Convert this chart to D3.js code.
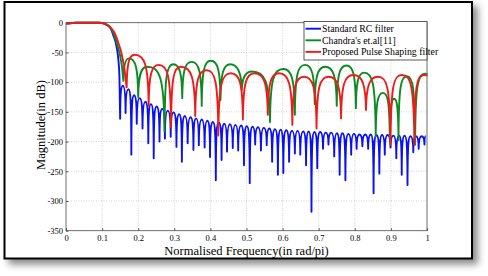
<!DOCTYPE html>
<html>
<head>
<meta charset="utf-8">
<script src="https://cdn.jsdelivr.net/npm/d3@7"></script>
<style>
html, body { margin: 0; padding: 0; background: #fff; }
svg { display: block; }
text { font-family: "Liberation Serif", "Times New Roman", serif; fill: #000; }
</style>
</head>
<body>
<svg id="chart" width="488" height="276"></svg>
<script>
"use strict";

// Tick values
const freqTicks = [0, 0.1, 0.2, 0.3, 0.4, 0.5, 0.6, 0.7, 0.8, 0.9, 1];
const dbTicks = [0, -50, -100, -150, -200, -250, -300, -350];

// Legend
const seriesNames = ["Standard RC filter", "Chandra's et.al[11]", "Proposed Pulse Shaping filter"];
const seriesColors = ["#0a10f2", "#0b8a22", "#ee1b1b"];

// Passband / roll-off part of each curve, [freq, dB], ends at the first null
const bluePass = [[0, -1.5], [0.03, 0], [0.09, 0], [0.1, -0.8], [0.11, -3], [0.122, -8], [0.131, -21],
    [0.14, -40], [0.145, -62], [0.148, -90], [0.150, -163]];
const greenPass = [[0, -1.5], [0.03, 0], [0.095, 0], [0.104, -1], [0.113, -3.5], [0.123, -9], [0.133, -20],
    [0.142, -37], [0.15, -56], [0.155, -74], [0.159, -99]];
const redPass = [[0, -1.5], [0.03, 0], [0.095, 0], [0.105, -1], [0.115, -3.5], [0.125, -9], [0.136, -19],
    [0.145, -34], [0.154, -52], [0.162, -78], [0.168, -110]];

// Stopband of the standard RC filter: nulls and the peak of each lobe between them
const blueNullF = [0.150, 0.165, 0.181, 0.196, 0.212, 0.228, 0.243, 0.259, 0.274, 0.290,
    0.306, 0.321, 0.337, 0.353, 0.368, 0.384, 0.399, 0.415, 0.431, 0.446,
    0.462, 0.477, 0.493, 0.509, 0.524, 0.540, 0.556, 0.571, 0.587, 0.602,
    0.618, 0.634, 0.649, 0.665, 0.680, 0.696, 0.712, 0.727, 0.743, 0.758,
    0.774, 0.790, 0.805, 0.821, 0.837, 0.852, 0.868, 0.883, 0.899, 0.915,
    0.930, 0.946, 0.962, 0.977, 0.993];
const blueNullDb = [-163, -152, -222, -170, -178, -203, -228, -200, -195, -192,
    -209, -234, -203, -214, -206, -210, -226, -265, -231, -217,
    -211, -215, -240, -270, -205, -215, -206, -234, -256, -253,
    -234, -220, -222, -240, -318, -245, -212, -205, -225, -256,
    -265, -222, -212, -208, -212, -287, -254, -222, -210, -228,
    -256, -273, -218, -212, -205];
const bluePeakDb = [-106, -112, -122, -127, -133, -137, -141, -145, -148, -151,
    -154, -157, -159, -161, -163, -165, -167, -168, -170, -171,
    -172, -173, -174, -175, -176, -177, -178, -179, -180, -181,
    -182, -182, -183, -183, -184, -184, -185, -185, -186, -186,
    -187, -187, -188, -188, -188, -189, -189, -189, -190, -190,
    -190, -191, -191, -191];
const blueEnd = [1.0, -191];

// Stopband of Chandra's filter: null, peak, null, peak ...
const greenLobes = [[0.159, -99], [0.174, -60], [0.2, -125], [0.224, -74], [0.273, -183], [0.297, -70],
    [0.322, -127], [0.348, -66], [0.376, -140], [0.401, -64], [0.428, -130], [0.455, -70],
    [0.487, -113], [0.515, -82], [0.565, -167], [0.602, -78], [0.634, -155], [0.662, -71],
    [0.689, -137], [0.718, -74], [0.75, -140], [0.777, -72], [0.803, -144], [0.826, -84],
    [0.858, -192], [0.878, -118], [0.897, -200], [0.909, -128], [0.921, -198], [0.944, -90],
    [0.967, -205], [0.995, -86], [1.0, -87]];

// Stopband of the proposed filter: null, peak, null, peak ...
const redLobes = [[0.168, -110], [0.19, -54], [0.229, -140], [0.257, -71], [0.291, -176], [0.318, -74],
    [0.358, -157], [0.389, -80], [0.422, -190], [0.457, -85], [0.49, -163], [0.522, -85],
    [0.559, -155], [0.59, -85], [0.627, -172], [0.659, -91], [0.694, -178], [0.727, -91],
    [0.762, -161], [0.796, -88], [0.831, -147], [0.864, -91], [0.899, -206], [0.93, -88],
    [0.965, -206], [0.99, -88], [1.0, -90]];

const svg = d3.select("#chart");

// drop shadow for the outer frame
const shadow = svg.append("defs").append("filter")
    .attr("id", "shadow").attr("x", "-5%").attr("y", "-5%").attr("width", "115%").attr("height", "120%");
shadow.append("feDropShadow")
    .attr("dx", 5).attr("dy", 5).attr("stdDeviation", 3.5)
    .attr("flood-color", "#000").attr("flood-opacity", 0.45);

svg.append("rect")
    .attr("x", 4.5).attr("y", 2).attr("width", 467.5).attr("height", 256.5)
    .attr("fill", "#fff").attr("stroke", "#000").attr("stroke-width", 2)
    .attr("filter", "url(#shadow)");

const plotLeft = 66, plotRight = 427, plotTop = 22.7, plotBottom = 230.7;

const x = d3.scaleLinear().domain([0, 1]).range([plotLeft, plotRight]);
const y = d3.scaleLinear().domain([-350, 0]).range([plotBottom, plotTop]);

// dotted grid
const grid = svg.append("g").attr("stroke", "#bdbdbd").attr("stroke-width", 0.7).attr("stroke-dasharray", "1,1.5");
grid.selectAll("line.vx").data(freqTicks.slice(1, -1)).join("line")
    .attr("x1", (d) => x(d)).attr("x2", (d) => x(d))
    .attr("y1", plotTop).attr("y2", plotBottom);
grid.selectAll("line.hy").data(dbTicks.slice(1, -1)).join("line")
    .attr("x1", plotLeft).attr("x2", plotRight)
    .attr("y1", (d) => y(d)).attr("y2", (d) => y(d));

// axes with tick labels
const xAxis = svg.append("g")
    .attr("transform", `translate(0,${plotBottom})`)
    .call(d3.axisBottom(x).tickValues(freqTicks).tickSize(-2.5).tickPadding(4).tickFormat((d) => String(d)));
const yAxis = svg.append("g")
    .attr("transform", `translate(${plotLeft},0)`)
    .call(d3.axisLeft(y).tickValues(dbTicks).tickSize(-2.5).tickPadding(3).tickFormat((d) => String(d)));
[xAxis, yAxis].forEach((a) => {
    a.attr("font-family", null).attr("font-size", null);
    a.select(".domain").remove();
    a.selectAll("line").attr("stroke", "#555");
    a.selectAll("text").attr("font-size", 8.5).attr("fill", "#111");
});

svg.append("rect")
    .attr("x", plotLeft).attr("y", plotTop)
    .attr("width", plotRight - plotLeft).attr("height", plotBottom - plotTop)
    .attr("fill", "none").attr("stroke", "#4a4a4a").attr("stroke-width", 0.8);

// lobe drawing: cusp at the nulls, rounded arch at the peaks
const pxPerDb = (plotBottom - plotTop) / 350;
function lobePath(pts) {
    const p = d3.path();
    const s = pts.map(([f, v]) => [x(f), y(v)]);
    p.moveTo(s[0][0], s[0][1]);
    for (let i = 1; i < s.length; i++) {
        const [x0, y0] = s[i - 1], [x1, y1] = s[i];
        const depth = Math.abs(y1 - y0), k = Math.min(depth * 0.4, pxPerDb * 16);
        if (y1 < y0) {
            p.bezierCurveTo(x0 + (x1 - x0) * 0.03, y1 + k, x0 + (x1 - x0) * 0.28, y1, x1, y1);
        } else {
            p.bezierCurveTo(x1 - (x1 - x0) * 0.28, y0, x1 - (x1 - x0) * 0.03, y0 + k, x1, y1);
        }
    }
    return p.toString();
}

const passLine = d3.line().x((d) => x(d[0])).y((d) => y(d[1])).curve(d3.curveMonotoneX);

const blueLobes = [];
blueNullF.forEach((f, i) => {
    blueLobes.push([f, blueNullDb[i]]);
    if (i < bluePeakDb.length) blueLobes.push([(f + blueNullF[i + 1]) / 2, bluePeakDb[i]]);
});
blueLobes.push([(blueNullF[blueNullF.length - 1] + blueEnd[0]) / 2, blueEnd[1]]);

const curves = [
    {pass: bluePass, lobes: blueLobes, color: seriesColors[0]},
    {pass: greenPass, lobes: greenLobes, color: seriesColors[1]},
    {pass: redPass, lobes: redLobes, color: seriesColors[2]}
];

svg.append("g").selectAll("path").data(curves).join("path")
    .attr("d", (d) => passLine(d.pass) + lobePath(d.lobes))
    .attr("fill", "none")
    .attr("stroke", (d) => d.color)
    .attr("stroke-width", 1.9)
    .attr("stroke-linejoin", "round");

// legend
const legend = svg.append("g");
legend.append("rect")
    .attr("x", 304).attr("y", 21.5).attr("width", plotRight - 304).attr("height", 38.5)
    .attr("fill", "#fff").attr("stroke", "#333").attr("stroke-width", 0.8);
const rows = legend.selectAll("g").data(seriesNames).join("g")
    .attr("transform", (d, i) => `translate(0,${28.7 + i * 11.6})`);
rows.append("line")
    .attr("x1", 305.5).attr("x2", 321)
    .attr("stroke", (d, i) => seriesColors[i]).attr("stroke-width", 1.9);
rows.append("text")
    .attr("x", 322).attr("dy", "0.33em")
    .attr("font-size", 9.8)
    .text((d) => d);

// axis titles
svg.append("text")
    .attr("x", (plotLeft + plotRight) / 2).attr("y", 254.5)
    .attr("text-anchor", "middle").attr("font-size", 12.5)
    .text("Normalised Frequency(in rad/pi)");
svg.append("text")
    .attr("transform", "translate(45,125) rotate(-90)")
    .attr("text-anchor", "middle").attr("font-size", 12.5)
    .text("Magnitude(in dB)");
</script>
</body>
</html>
